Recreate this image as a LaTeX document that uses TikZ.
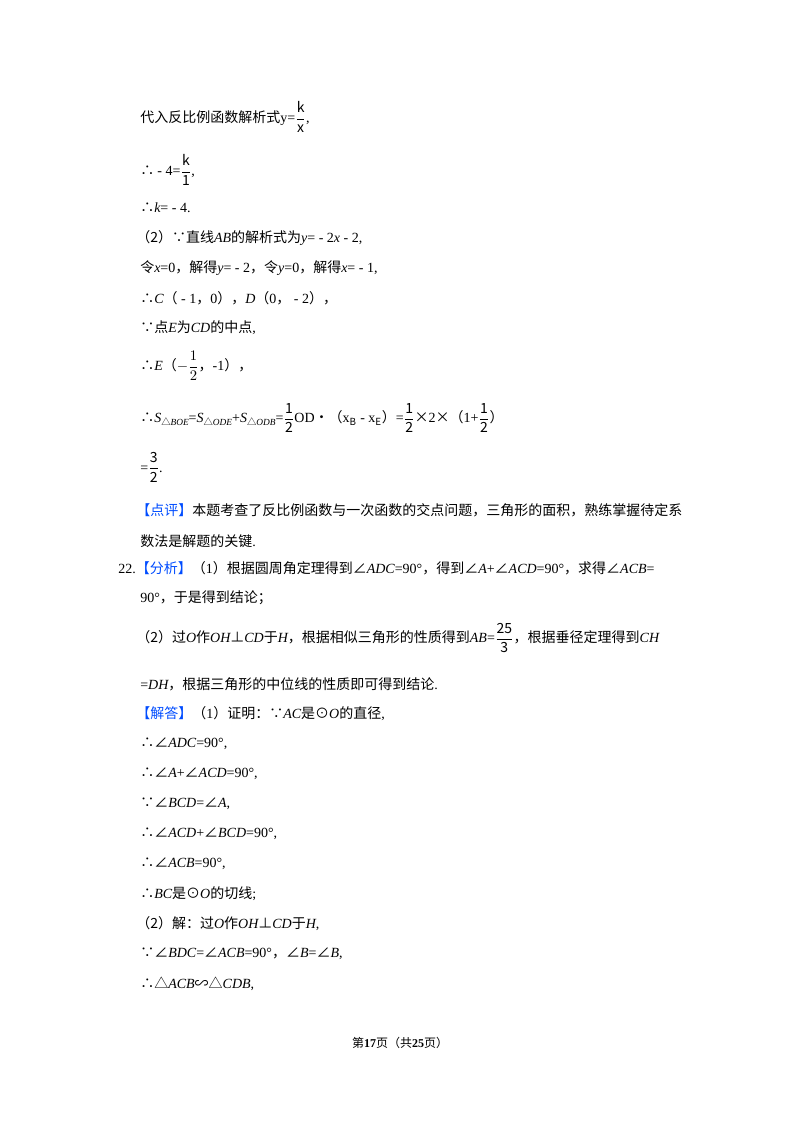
\documentclass[tikz,border=0pt]{standalone}
\usepackage{fontspec}
\setmainfont{Noto Sans CJK SC}
\newfontfamily\lat{Liberation Serif}
\newcommand\vi[1]{{\lat\itshape #1}}
\newcommand\vr[1]{{\lat #1}}
\newcommand\hl[1]{{\color{blue!70!cyan}#1}}
\newcommand\fr[2]{$\displaystyle\frac{\mathrm{#1}}{\mathrm{#2}}$}
\newcommand\sub[1]{\raisebox{-0.35ex}{{\scriptsize△}{\lat\scriptsize\itshape #1}}}
\begin{document}
\begin{tikzpicture}[x=0.75pt,y=-0.75pt,
  ln/.style={anchor=west,inner sep=0pt,font=\fontsize{10.5}{12}\selectfont}]
\useasboundingbox (0,0) rectangle (800,1132);
\node[ln] (l1) at (140,117) {代入反比例函数解析式\vr{y=}\fr{k}{x}\vr{,}};
\node[ln] (l2) at (140,170) {∴ \vr{- 4=}\fr{k}{1}\vr{,}};
\node[ln] (l3) at (140,208) {∴\vi{k}\vr{= - 4.}};
\node[ln] (l4) at (136,238) {（2）∵直线\vi{AB}的解析式为\vi{y}\vr{= - 2}\vi{x}\vr{ - 2,}};
\node[ln] (l5) at (140,268) {令\vi{x}\vr{=0}，解得\vi{y}\vr{= - 2}，令\vi{y}\vr{=0}，解得\vi{x}\vr{= - 1,}};
\node[ln] (l6) at (140,298) {∴\vi{C}（\vr{ - 1}，\vr{0}），\vi{D}（\vr{0}，\vr{ - 2}），};
\node[ln] (l7) at (140,328) {∵点\vi{E}为\vi{CD}的中点\vr{,}};
\node[ln] (l8) at (140,366) {∴\vi{E}（$\displaystyle-\frac{1}{2}$，\vr{-1}），};
\node[ln] (l9) at (140,418) {∴\vi{S}\sub{BOE}\vr{=}\vi{S}\sub{ODE}\vr{+}\vi{S}\sub{ODB}\vr{=}\fr{1}{2}\vr{OD}•（\vr{x}$_{\mathrm B}$\vr{ - x}$_{\mathrm E}$）\vr{=}\fr{1}{2}×\vr{2}×（\vr{1+}\fr{1}{2}）};
\node[ln] (l10) at (140,467) {\vr{=}\fr{3}{2}\vr{.}};
\node[ln] (l11) at (136,510) {\hl{【点评】}本题考查了反比例函数与一次函数的交点问题，三角形的面积，熟练掌握待定系};
\node[ln] (l12) at (140,541) {数法是解题的关键\vr{.}};
\node[ln] (l13) at (118,568) {\vr{22.}\hl{【分析】}（\vr{1}）根据圆周角定理得到∠\vi{ADC}\vr{=90°}，得到∠\vi{A}\vr{+}∠\vi{ACD}\vr{=90°}，求得∠\vi{ACB}\vr{=}};
\node[ln] (l14) at (140,598) {\vr{90°}，于是得到结论；};
\node[ln] (l15) at (136,638) {（2）过\vi{O}作\vi{OH}⊥\vi{CD}于\vi{H}，根据相似三角形的性质得到\vi{AB}\vr{=}\fr{25}{3}，根据垂径定理得到\vi{CH}};
\node[ln] (l16) at (140,684) {\vr{=}\vi{DH}，根据三角形的中位线的性质即可得到结论\vr{.}};
\node[ln] (l17) at (136,714) {\hl{【解答】}（\vr{1}）证明：∵\vi{AC}是⊙\vi{O}的直径\vr{,}};
\node[ln] (l18) at (140,744) {∴∠\vi{ADC}\vr{=90°,}};
\node[ln] (l19) at (140,774) {∴∠\vi{A}\vr{+}∠\vi{ACD}\vr{=90°,}};
\node[ln] (l20) at (140,804) {∵∠\vi{BCD}\vr{=}∠\vi{A}\vr{,}};
\node[ln] (l21) at (140,834) {∴∠\vi{ACD}\vr{+}∠\vi{BCD}\vr{=90°,}};
\node[ln] (l22) at (140,864) {∴∠\vi{ACB}\vr{=90°,}};
\node[ln] (l23) at (140,894) {∴\vi{BC}是⊙\vi{O}的切线\vr{;}};
\node[ln] (l24) at (136,924) {（2）解：过\vi{O}作\vi{OH}⊥\vi{CD}于\vi{H}\vr{,}};
\node[ln] (l25) at (140,954) {∵∠\vi{BDC}\vr{=}∠\vi{ACB}\vr{=90°}，∠\vi{B}\vr{=}∠\vi{B}\vr{,}};
\node[ln] (l26) at (140,984) {∴△\vi{ACB}∽△\vi{CDB}\vr{,}};
\node[inner sep=0pt,font=\fontsize{9}{11}\selectfont] (ft) at (400,1043) {第\textbf{\vr{17}}页（共\textbf{\vr{25}}页）};
\end{tikzpicture}
\end{document}
